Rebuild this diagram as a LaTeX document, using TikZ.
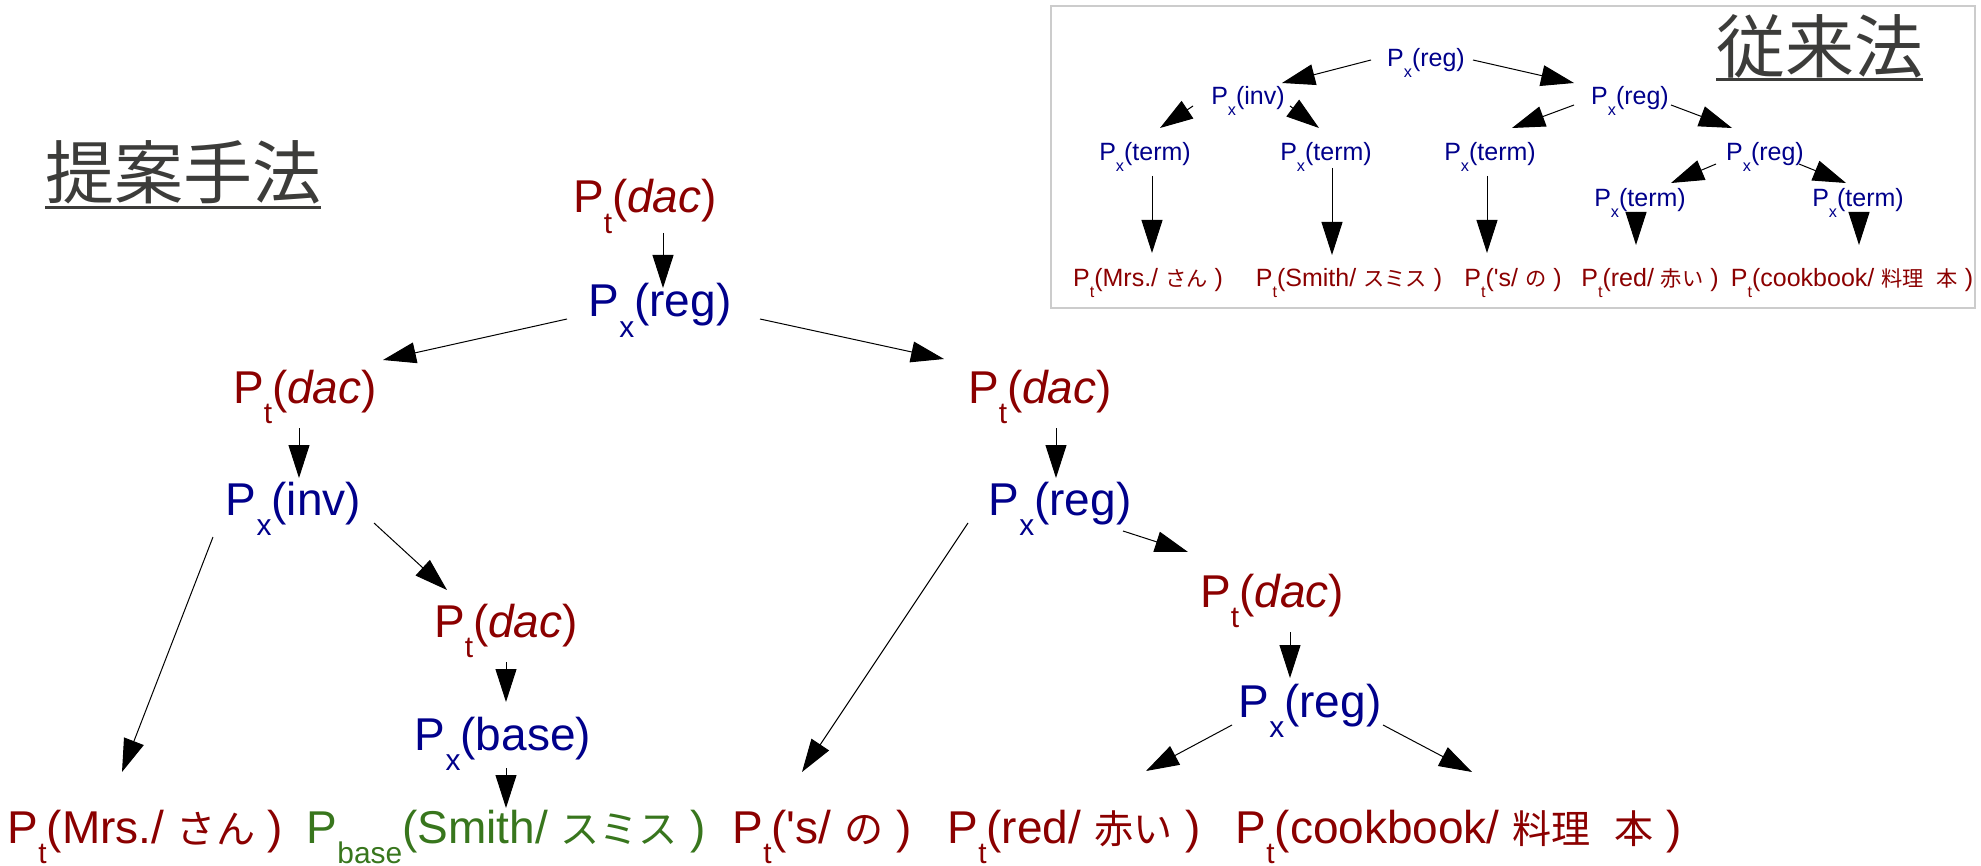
\documentclass[tikz,border=0pt]{standalone}
\usepackage{fontspec}
\setmainfont{Liberation Sans}
\newfontfamily\jph{Noto Sans CJK JP}
\newfontfamily\jp[Scale=0.85]{Noto Sans CJK JP}
\usetikzlibrary{arrows.meta}
\definecolor{tred}{HTML}{8B0000}
\definecolor{tblue}{HTML}{00008B}
\definecolor{tgreen}{HTML}{38761D}
\definecolor{thead}{HTML}{3C3C3A}
\definecolor{tbox}{HTML}{CCCCCC}
\newcommand\Sb[1]{\raisebox{-0.44em}{\scalebox{0.65}{#1}}}
\begin{document}
\begin{tikzpicture}[x=1pt,y=-1pt,
  big/.style={inner sep=0pt, anchor=base, font=\fontsize{46}{50}\selectfont},
  small/.style={inner sep=0pt, anchor=base, font=\fontsize{25}{29}\selectfont},
  tn/.style={text=tred}, xn/.style={text=tblue}, bn/.style={text=tgreen},
  arr/.style={-{Triangle[length=33pt,width=21pt]}, line width=1pt, black},
  head/.style={inner sep=0pt, anchor=base west, text=thead, font=\jph\fontsize{69}{75}\selectfont},
  uline/.style={draw=thead, line width=3pt}]
\fill[white] (0,0) rectangle (1981,866);
\useasboundingbox (0,0) rectangle (1981,866);

% headings
\node[head] (h1) at (45,199) {提案手法};
\draw[uline] ([shift={(0,9)}]h1.base west) -- ([shift={(0,9)}]h1.base east);

% ---------- main tree ----------
\node[big,tn] (rdac)  at (645,213) {P\Sb{t}(\textit{dac})};
\node[big,xn] (rreg)  at (660,317) {P\Sb{x}(reg)};
\node[big,tn] (ldac)  at (305,403) {P\Sb{t}(\textit{dac})};
\node[big,xn] (linv)  at (293.5,515) {P\Sb{x}(inv)};
\node[big,tn] (lldac) at (506,637) {P\Sb{t}(\textit{dac})};
\node[big,xn] (lbase) at (503,750) {P\Sb{x}(base)};
\node[big,tn] (mdac)  at (1040,403) {P\Sb{t}(\textit{dac})};
\node[big,xn] (mreg)  at (1060,515) {P\Sb{x}(reg)};
\node[big,tn] (rrdac) at (1272,607) {P\Sb{t}(\textit{dac})};
\node[big,xn] (rrreg) at (1310,717) {P\Sb{x}(reg)};
\node[big,tn] (lmrs)   at (145.5,843) {P\Sb{t}(Mrs./ {\jp さん} )};
\node[big,bn] (lsmith) at (506.5,843) {P\Sb{base}(Smith/ {\jp スミス} )};
\node[big,tn] (lsn)    at (822,843) {P\Sb{t}(\textquotesingle s/ {\jp の} )};
\node[big,tn] (lred)   at (1074,843) {P\Sb{t}(red/ {\jp 赤い} )};
\node[big,tn] (lcook)  at (1458.5,843) {P\Sb{t}(cookbook/ {\jp 料理\hspace{0.6em}本} )};

\draw[arr] ([shift={(18,20)}]rdac.base) -- ([shift={(3,-29)}]rreg.base);
\draw[arr] ([shift={(-93,2)}]rreg.base) -- ([shift={(78,-43)}]ldac.base);
\draw[arr] ([shift={(100,2)}]rreg.base) -- ([shift={(-96,-44)}]mdac.base);
\draw[arr] ([shift={(-6,25)}]ldac.base) -- ([shift={(5.5,-37)}]linv.base);
\draw[arr] ([shift={(-80.5,22)}]linv.base) -- ([shift={(-23.5,-71)}]lmrs.base);
\draw[arr] ([shift={(80.5,8)}]linv.base) -- ([shift={(-59,-47)}]lldac.base);
\draw[arr] ([shift={(0,25)}]lldac.base) -- ([shift={(3,-48)}]lbase.base);
\draw[arr] ([shift={(3,18)}]lbase.base) -- ([shift={(-0.5,-35)}]lsmith.base);
\draw[arr] ([shift={(16,25)}]mdac.base) -- ([shift={(-4,-37)}]mreg.base);
\draw[arr] ([shift={(-92,8)}]mreg.base) -- ([shift={(-20,-71)}]lsn.base);
\draw[arr] ([shift={(63,16)}]mreg.base) -- ([shift={(-84,-55)}]rrdac.base);
\draw[arr] ([shift={(18,25)}]rrdac.base) -- ([shift={(-20,-39)}]rrreg.base);
\draw[arr] ([shift={(-78,8)}]rrreg.base) -- ([shift={(72,-72)}]lred.base);
\draw[arr] ([shift={(73,8)}]rrreg.base) -- ([shift={(13.5,-71)}]lcook.base);

% ---------- inset ----------
\draw[draw=tbox, line width=1.5pt] (1051,6) rectangle (1975,308);
\node[head] (h2) at (1716,73) {従来法};
\draw[uline] ([shift={(0,7)}]h2.base west) -- ([shift={(0,7)}]h2.base east);

\node[small,xn] (itop) at (1426,67) {P\Sb{x}(reg)};
\node[small,xn] (iinv) at (1248,105) {P\Sb{x}(inv)};
\node[small,xn] (imid) at (1630,105) {P\Sb{x}(reg)};
\node[small,xn] (it1)  at (1145,161) {P\Sb{x}(term)};
\node[small,xn] (it2)  at (1326,161) {P\Sb{x}(term)};
\node[small,xn] (it3)  at (1490,161) {P\Sb{x}(term)};
\node[small,xn] (ilow) at (1765,161) {P\Sb{x}(reg)};
\node[small,xn] (it4)  at (1640,207) {P\Sb{x}(term)};
\node[small,xn] (it5)  at (1858,207) {P\Sb{x}(term)};
\node[small,tn] (imrs)   at (1148,287) {P\Sb{t}(Mrs./ {\jp さん} )};
\node[small,tn] (ismith) at (1349,287) {P\Sb{t}(Smith/ {\jp スミス} )};
\node[small,tn] (isn)    at (1513,287) {P\Sb{t}(\textquotesingle s/ {\jp の} )};
\node[small,tn] (ired)   at (1650,287) {P\Sb{t}(red/ {\jp 赤い} )};
\node[small,tn] (icook)  at (1852,287) {P\Sb{t}(cookbook/ {\jp 料理\hspace{0.6em}本} )};

\draw[arr] ([shift={(-55,-7)}]itop.base) -- ([shift={(34,-22)}]iinv.base);
\draw[arr] ([shift={(47,-7)}]itop.base) -- ([shift={(-56,-22)}]imid.base);
\draw[arr] ([shift={(-55,1)}]iinv.base) -- ([shift={(15,-33)}]it1.base);
\draw[arr] ([shift={(42,1)}]iinv.base) -- ([shift={(-7,-33)}]it2.base);
\draw[arr] ([shift={(-56,0)}]imid.base) -- ([shift={(22,-33)}]it3.base);
\draw[arr] ([shift={(41,0)}]imid.base) -- ([shift={(-33,-33)}]ilow.base);
\draw[arr] ([shift={(7,15)}]it1.base) -- ([shift={(4,-34)}]imrs.base);
\draw[arr] ([shift={(6,7)}]it2.base) -- ([shift={(-17,-32)}]ismith.base);
\draw[arr] ([shift={(-3,15)}]it3.base) -- ([shift={(-26,-34)}]isn.base);
\draw[arr] ([shift={(-49,3)}]ilow.base) -- ([shift={(31,-24)}]it4.base);
\draw[arr] ([shift={(34,3)}]ilow.base) -- ([shift={(-12,-24)}]it5.base);
\draw[arr] ([shift={(-4,5)}]it4.base) -- ([shift={(-14,-42)}]ired.base);
\draw[arr] ([shift={(1,5)}]it5.base) -- ([shift={(7,-42)}]icook.base);
\end{tikzpicture}
\end{document}
